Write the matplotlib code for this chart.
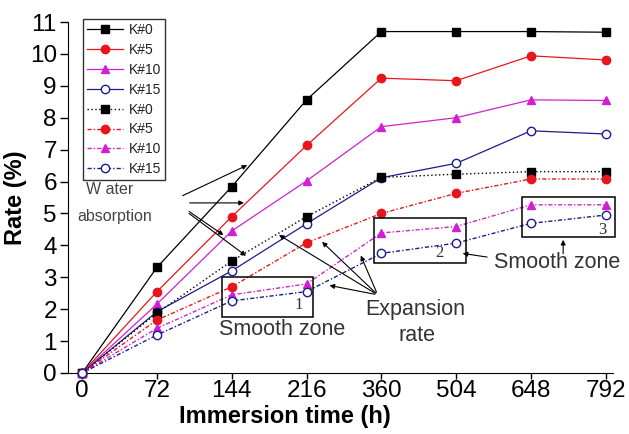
import matplotlib
matplotlib.use("Agg")
import matplotlib.pyplot as plt

plt.rcParams["font.family"] = ["Liberation Sans", "DejaVu Sans"]

# ===== data =====
hours = ["0", "72", "144", "216", "360", "504", "648", "792"]
labels = ["K#0", "K#5", "K#10", "K#15"]

# water absorption (solid)
wa_k0 = [0, 3.31, 5.84, 8.56, 10.70, 10.70, 10.70, 10.68]
wa_k5 = [0, 2.55, 4.90, 7.13, 9.24, 9.16, 9.94, 9.81]
wa_k10 = [0, 2.16, 4.45, 6.02, 7.72, 8.00, 8.56, 8.54]
wa_k15 = [0, 1.92, 3.20, 4.68, 6.12, 6.57, 7.59, 7.49]

# expansion rate (dotted)
ex_k0 = [0, 1.88, 3.51, 4.90, 6.13, 6.23, 6.31, 6.31]
ex_k5 = [0, 1.66, 2.70, 4.08, 5.00, 5.63, 6.08, 6.08]
ex_k10 = [0, 1.40, 2.45, 2.79, 4.39, 4.59, 5.27, 5.27]
ex_k15 = [0, 1.19, 2.26, 2.55, 3.75, 4.07, 4.69, 4.95]

colors = ["black", "#e8161c", "#d21fd2", "#1c1c8c"]
markers = ["s", "o", "^", "o"]
faces = ["black", "#e8161c", "#d21fd2", "white"]

x = list(range(len(hours)))

fig = plt.figure(figsize=(6.29, 4.34), dpi=100)
ax = fig.add_axes([0.108, 0.1406, 0.867, 0.8087])

for ys, c, m, fc, lab in zip([wa_k0, wa_k5, wa_k10, wa_k15], colors, markers, faces, labels):
    ax.plot(x, ys, color=c, lw=0.9, marker=m, ms=6, mfc=fc, mec=c,
            mew=1.0, label=lab, clip_on=False, zorder=3)

dash_styles = [(0, (1, 1.8)), (0, (3, 1.5, 1, 1.5)), (0, (3, 1.5, 1, 1.5)), (0, (3, 1.5, 1, 1.5))]
for ys, c, m, fc, lab, ds in zip([ex_k0, ex_k5, ex_k10, ex_k15], colors, markers, faces, labels, dash_styles):
    ax.plot(x, ys, color=c, lw=1.0, ls=ds, marker=m, ms=6, mfc=fc, mec=c,
            mew=1.0, label=lab, clip_on=False, zorder=3)

ax.set_xlim(-0.19, 7.1)
ax.set_ylim(0, 11)
ax.set_xticks(x)
ax.set_xticklabels(hours)
ax.set_yticks(range(0, 12))
ax.tick_params(labelsize=17.5, width=1)
ax.tick_params(axis="x", length=4, pad=1)
ax.tick_params(axis="y", length=6, pad=2)
for s in ["top", "right"]:
    ax.spines[s].set_visible(False)
ax.set_xlabel("Immersion time (h)", fontsize=17, weight="bold", labelpad=0)
ax.xaxis.set_label_coords(0.398, -0.092)
ax.set_ylabel("Rate (%)", fontsize=17, weight="bold", labelpad=2)

leg = ax.legend(loc="upper left", bbox_to_anchor=(0.132, 0.956),
                bbox_transform=fig.transFigure, fontsize=10, frameon=True,
                fancybox=False, edgecolor="black", handlelength=2.6,
                handletextpad=0.4, labelspacing=0.42, borderpad=0.3,
                borderaxespad=0)
leg.get_frame().set_linewidth(1.0)
for t in leg.get_texts():
    t.set_color("#222222")

# ===== annotations =====
arrow = dict(arrowstyle="-|>", color="black", lw=0.8, mutation_scale=7)
ax.text(0.37, 5.74, "W ater", fontsize=11.5, color="#444444", ha="center", va="center")
ax.text(0.44, 4.89, "absorption", fontsize=11.5, color="#444444", ha="center", va="center")
for (sx, sy), (tx, ty) in [((1.31, 5.52), (2.24, 6.55)),
                           ((1.40, 5.33), (2.20, 5.33)),
                           ((1.40, 5.11), (1.92, 4.27)),
                           ((1.40, 5.05), (2.22, 3.62))]:
    ax.annotate("", xy=(tx, ty), xytext=(sx, sy), arrowprops=arrow, annotation_clip=False)

ax.text(4.45, 1.98, "Expansion", fontsize=15.5, color="#333333", ha="center", va="center")
ax.text(4.47, 1.19, "rate", fontsize=15.5, color="#333333", ha="center", va="center")
for tx, ty in [(2.60, 4.37), (3.18, 4.17), (3.71, 3.76), (3.27, 2.76)]:
    ax.annotate("", xy=(tx, ty), xytext=(3.95, 2.45), arrowprops=arrow, annotation_clip=False)

# smooth zone boxes
for (x0, y0, x1, y1), num, (nx, ny) in [((1.87, 1.76, 3.09, 3.01), "1", (2.90, 2.13)),
                                        ((3.90, 3.45, 5.13, 4.86), "2", (4.78, 3.76)),
                                        ((5.88, 4.26, 7.12, 5.52), "3", (6.95, 4.48))]:
    ax.add_patch(plt.Rectangle((x0, y0), x1 - x0, y1 - y0, fill=False,
                               ec="black", lw=1.1, clip_on=False, zorder=4))
    ax.text(nx, ny, num, fontsize=12, family="Liberation Serif", color="#333333",
            ha="center", va="center")

ax.text(2.67, 1.35, "Smooth zone", fontsize=15.5, color="#333333", ha="center", va="center")
ax.text(6.35, 3.45, "Smooth zone", fontsize=15.5, color="#333333", ha="center", va="center")
ax.annotate("", xy=(5.05, 3.76), xytext=(5.45, 3.62), arrowprops=arrow, annotation_clip=False)
ax.annotate("", xy=(6.43, 4.26), xytext=(6.43, 3.65), arrowprops=arrow, annotation_clip=False)

fig.savefig("out.png", dpi=100)
